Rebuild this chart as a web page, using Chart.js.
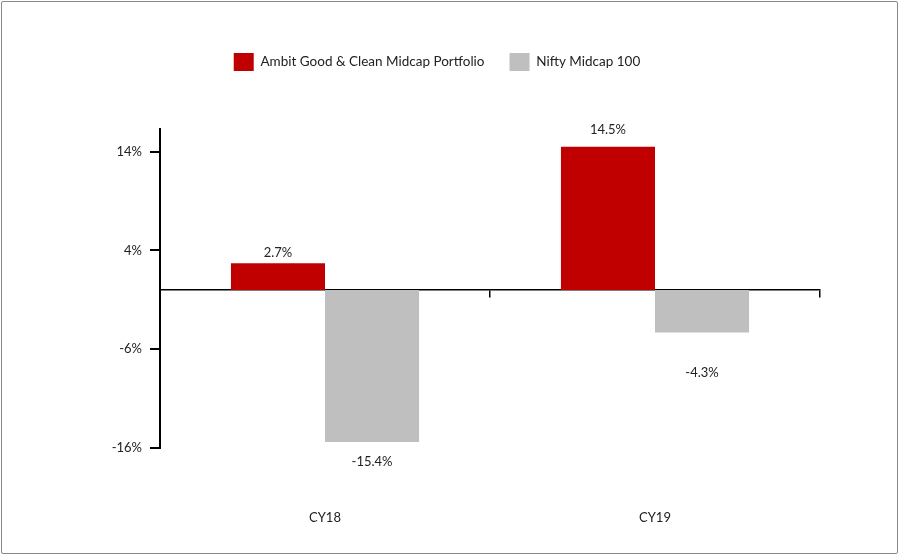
<!DOCTYPE html>
<html>
<head>
<meta charset="utf-8">
<script src="https://cdn.jsdelivr.net/npm/chart.js@4/dist/chart.umd.min.js"></script>
<style>
  html, body { margin: 0; padding: 0; background: #fff; }
  #frame { position: absolute; left: 1px; top: 1px; width: 897px; height: 553px; box-sizing: border-box; border: 1px solid #888; border-radius: 2px; }
  #wrap { position: absolute; left: 0; top: 0; width: 900px; height: 560px; }
</style>
</head>
<body>
<div id="frame"></div>
<div id="wrap"><canvas id="c"></canvas></div>
<script>
// datos
const categories = ['CY18', 'CY19'];
const seriesNames = ['Ambit Good & Clean Midcap Portfolio', 'Nifty Midcap 100'];
const ambitVals = [2.7, 14.5];
const niftyVals = [-15.4, -4.3];
const yTicks = [-16, -6, 4, 14];

const FONT = { family: 'Lato, "Noto Sans", sans-serif', size: 13 };

// etiquetas encima / debajo de las barras
const barLabels = {
  id: 'barLabels',
  afterDatasetsDraw(chart, args, opts) {
    const ctx = chart.ctx;
    ctx.save();
    ctx.font = `${FONT.size}px ${FONT.family}`;
    ctx.fillStyle = '#222';
    ctx.textAlign = 'center';
    ctx.textBaseline = 'middle';
    chart.data.datasets.forEach((ds, di) => {
      chart.getDatasetMeta(di).data.forEach((bar, i) => {
        const v = ds.data[i];
        ctx.fillText(v.toFixed(1) + '%', bar.x, bar.y + opts.shift[di][i]);
      });
    });
    ctx.restore();
  }
};

// hueco entre leyenda y gráfico
const legendGap = {
  id: 'legendGap',
  beforeInit(chart) {
    const fit = chart.legend.fit;
    chart.legend.fit = function () { fit.bind(chart.legend)(); this.height += 48; };
  }
};

new Chart(document.getElementById('c'), {
  type: 'bar',
  data: {
    labels: categories,
    datasets: [
      { label: seriesNames[0], data: ambitVals, backgroundColor: '#C00000', categoryPercentage: 0.57, barPercentage: 1 },
      { label: seriesNames[1], data: niftyVals, backgroundColor: '#BFBFBF', categoryPercentage: 0.57, barPercentage: 1 }
    ]
  },
  options: {
    responsive: true, maintainAspectRatio: false, animation: false,
    layout: { padding: { top: 28, right: 26, bottom: 37, left: 0 } },
    plugins: {
      legend: {
        position: 'top',
        labels: { boxWidth: 20, boxHeight: 18, padding: 25, color: '#222', font: { family: FONT.family, size: 13.5 } }
      },
      tooltip: { enabled: false },
      barLabels: { shift: [[-11, -17], [20, 40]] }
    },
    scales: {
      x: {
        position: { y: 0 },
        offset: true,
        grid: { offset: true, drawOnChartArea: false, tickLength: 7, color: '#000', lineWidth: 1.5 },
        border: { color: '#000', width: 1.5 },
        ticks: { display: false }
      },
      x2: {
        type: 'category', position: 'bottom', labels: categories, offset: true,
        grid: { display: false, drawTicks: false }, border: { display: false },
        ticks: { color: '#222', font: FONT, padding: 62 },
        afterFit: s => { s.height = 75; }
      },
      y: {
        min: -16, max: 16.3,
        afterBuildTicks: s => { s.ticks = yTicks.map(v => ({ value: v })); },
        afterFit: s => { s.width = 160; },
        grid: { drawOnChartArea: false, tickLength: 10, color: '#000', lineWidth: 2 },
        border: { color: '#000', width: 2 },
        ticks: { color: '#222', font: FONT, padding: 8, callback: v => v + '%' }
      },
      y2: {
        type: 'linear', position: 'right',
        grid: { display: false, drawTicks: false }, border: { display: false },
        ticks: { display: false },
        afterFit: s => { s.width = 54; }
      }
    }
  },
  plugins: [barLabels, legendGap]
});
</script>
</body>
</html>
